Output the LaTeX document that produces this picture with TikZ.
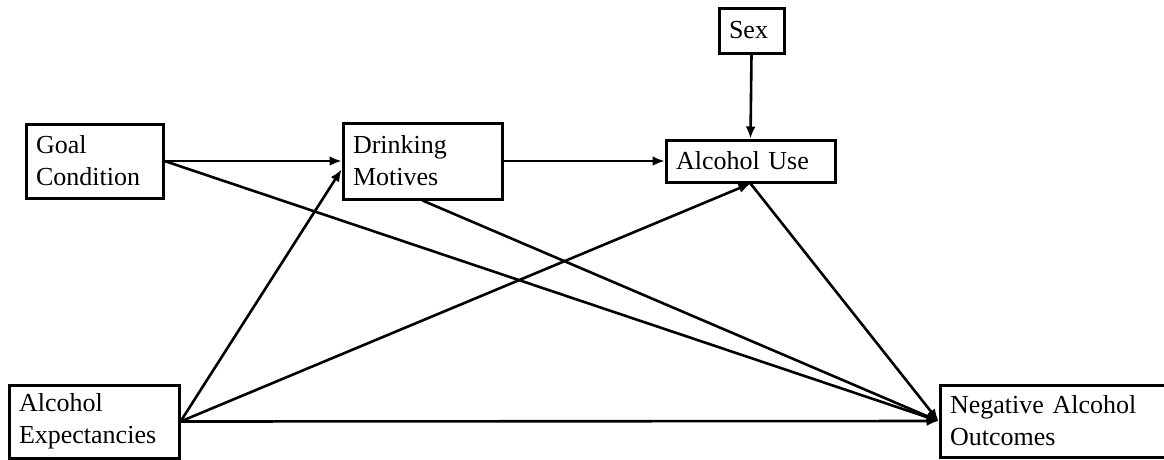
\documentclass[tikz,border=0pt]{standalone}
\usepackage{fontspec}
\setmainfont{Liberation Serif}
\usetikzlibrary{arrows.meta}

\begin{document}
\begin{tikzpicture}[x=1pt,y=-1pt,font=\fontsize{26}{32}\selectfont,
  var/.style={draw,line width=3pt,align=left,inner xsep=10pt,inner ysep=0pt},
  path/.style={->,line width=2.6pt},
  >={Latex[length=12pt,width=10pt]}]
  \clip (0,0) rectangle (1164,459);

  \node[var,minimum width=137pt,minimum height=74pt,text width=117pt] (goal) at (94.5,161) {Goal\\Condition};
  \node[var,minimum width=159pt,minimum height=76pt,text width=139pt] (motives) at (422.5,161) {Drinking\\Motives};
  \node[var,minimum width=169pt,minimum height=42pt,text width=149pt] (use) at (750.5,161) {Alcohol Use};
  \node[var,minimum width=65pt,minimum height=45pt,text width=45pt] (sex) at (751.5,30.5) {Sex};
  \node[var,minimum width=170pt,minimum height=73pt,text width=150pt] (expect) at (94,421.5) {Alcohol\\Expectancies};
  \node[var,minimum width=300pt,minimum height=72pt,text width=280pt] (outcomes) at (1090,421) {Negative Alcohol\\Outcomes};

  \foreach \a/\b in {goal.east/motives.west, goal.east/outcomes.west,
                     motives.east/use.west, motives.south/outcomes.west,
                     sex.south/use.north, use.south/outcomes.west,
                     expect.east/motives.-174, expect.east/use.south,
                     expect.east/outcomes.west}
    \draw[path] (\a) -- (\b);
\end{tikzpicture}
\end{document}
